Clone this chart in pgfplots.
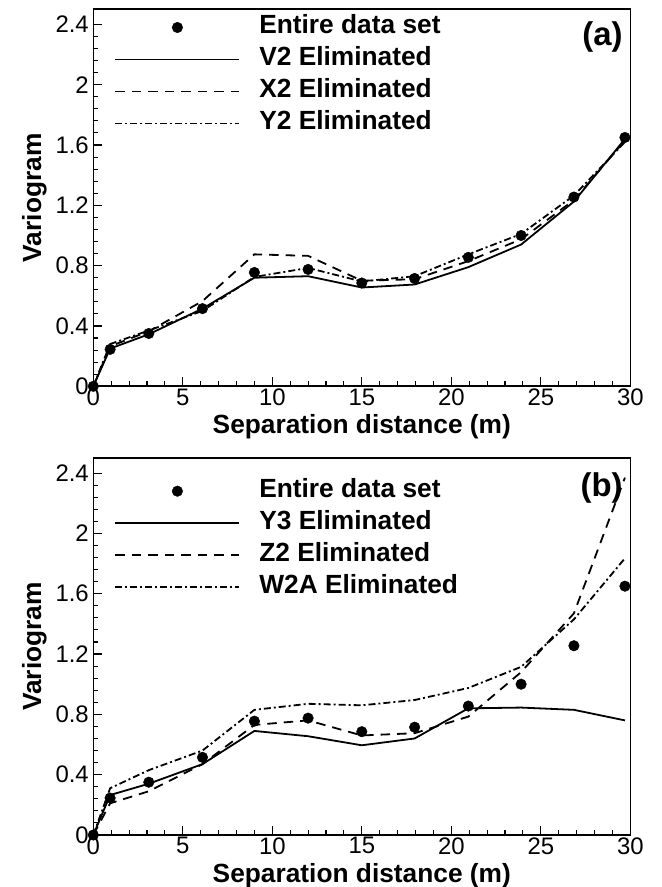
\documentclass[border=0pt]{standalone}
\usepackage{fontspec}
\setmainfont{Liberation Sans}
\usepackage{pgfplots}
\pgfplotsset{compat=1.18}
\begin{document}
\begin{tikzpicture}
\useasboundingbox (0,0) rectangle (662bp,887bp);
\pgfplotsset{
 myaxis/.style={
  scale only axis, width=537bp, height=377bp, anchor=south west,
  xmin=0, xmax=30, ymin=0, ymax=2.5,
  xtick={0,5,10,15,20,25,30}, ytick={0,0.4,0.8,1.2,1.6,2,2.4},
  yticklabels={0,0.4,0.8,1.2,1.6,2,2.4},
  minor x tick num=4, minor y tick num=4,
  tick align=inside, tick pos=left,
  major tick length=9bp, minor tick length=5bp,
  every tick/.style={black, line width=1.1bp},
  axis line style={line width=1.6bp},
  tick label style={font=\fontsize{24}{24}\selectfont},
  /pgf/number format/assume math mode=true,
  yticklabel style={xshift=-1bp},
  xticklabel style={yshift=1bp},
  xlabel={Separation distance (m)}, ylabel={Variogram},
  label style={font=\bfseries\fontsize{26.4}{26.4}\selectfont},
  xlabel style={at={(axis description cs:0.5,-0.125)}, anchor=base},
  ylabel style={at={(axis description cs:-0.097,0.5)}, anchor=base},
  clip=false,
  legend cell align=left,
  legend style={draw=none, fill=none, anchor=north west, inner sep=0pt,
    row sep=8bp, column sep=19bp,
    font=\bfseries\fontsize{26.4}{26.4}\selectfont,
    nodes={inner sep=0pt, text height=19bp, text depth=5bp}},
  legend image code/.code={\draw[mark repeat=2,mark phase=2,##1] plot coordinates {(0bp,-1bp) (62bp,-1bp) (124bp,-1bp)};},
 },
 dots/.style={only marks, mark=*, mark size=5.3bp, black},
 sol/.style={black, line width=1.8bp, solid, no marks},
 dsh/.style={black, line width=1.8bp, dash pattern=on 9.5bp off 7bp, no marks},
 dsd/.style={black, line width=1.8bp, dash pattern=on 7bp off 3bp on 2bp off 3bp, no marks},
}
% ---------- panel (a)
\begin{axis}[myaxis, at={(93.3bp,500.7bp)},
  legend style={at={(axis description cs:0,1)}, xshift=21bp, yshift=-5bp}]
\addplot[dots] coordinates {(0,0) (0.94,0.245) (3.1,0.35) (6.1,0.515) (9,0.755) (12,0.775) (15,0.685) (17.95,0.715) (20.95,0.855) (23.9,1.0) (26.85,1.255) (29.7,1.65)};
\addlegendentry{Entire data set}
\addplot[sol] coordinates {(0,0) (0.94,0.25) (3.1,0.345) (6.1,0.515) (9,0.72) (12,0.73) (15,0.655) (17.95,0.675) (20.95,0.79) (23.9,0.94) (26.85,1.225) (29.7,1.64)};
\addlegendentry{V2 Eliminated}
\addplot[dsh] coordinates {(0,0) (0.94,0.265) (3.1,0.365) (6.1,0.565) (9,0.875) (12,0.865) (15,0.70) (17.95,0.71) (20.95,0.83) (23.9,0.975) (26.85,1.235) (29.7,1.63)};
\addlegendentry{X2 Eliminated}
\addplot[dsd] coordinates {(0,0) (0.94,0.28) (3.1,0.37) (6.1,0.50) (9,0.725) (12,0.785) (15,0.695) (17.95,0.73) (20.95,0.875) (23.9,1.01) (26.85,1.265) (29.7,1.62)};
\addlegendentry{Y2 Eliminated}
\node[anchor=north east, inner sep=0pt, font=\bfseries\fontsize{33}{33}\selectfont, xshift=-7.5bp, yshift=-12.5bp] at (rel axis cs:1,1) {(a)};
\end{axis}
% ---------- panel (b)
\begin{axis}[myaxis, at={(93.3bp,52bp)},
  legend style={at={(axis description cs:0,1)}, xshift=21bp, yshift=-20bp}]
\addplot[dots] coordinates {(0,0) (0.94,0.245) (3.1,0.35) (6.1,0.515) (9,0.755) (12,0.775) (15,0.685) (17.95,0.715) (20.95,0.855) (23.9,1.0) (26.85,1.255) (29.7,1.65)};
\addlegendentry{Entire data set}
\addplot[sol] coordinates {(0,0) (0.94,0.265) (3.1,0.34) (6.1,0.47) (9,0.69) (12,0.655) (15,0.595) (17.95,0.64) (20.95,0.84) (23.9,0.845) (26.85,0.83) (29.7,0.76)};
\addlegendentry{Y3 Eliminated}
\addplot[dsh] coordinates {(0,0) (0.94,0.21) (3.1,0.29) (6.1,0.47) (9,0.73) (12,0.76) (15,0.66) (17.95,0.675) (20.95,0.785) (23.9,1.08) (26.85,1.47) (29.7,2.37)};
\addlegendentry{Z2 Eliminated}
\addplot[dsd] coordinates {(0,0) (0.94,0.31) (3.1,0.43) (6.1,0.56) (9,0.83) (12,0.87) (15,0.86) (17.95,0.895) (20.95,0.975) (23.9,1.115) (26.85,1.43) (29.7,1.835)};
\addlegendentry{W2A Eliminated}
\node[anchor=north east, inner sep=0pt, font=\bfseries\fontsize{33}{33}\selectfont, xshift=-7.5bp, yshift=-14bp] at (rel axis cs:1,1) {(b)};
\end{axis}
\end{tikzpicture}
\end{document}
